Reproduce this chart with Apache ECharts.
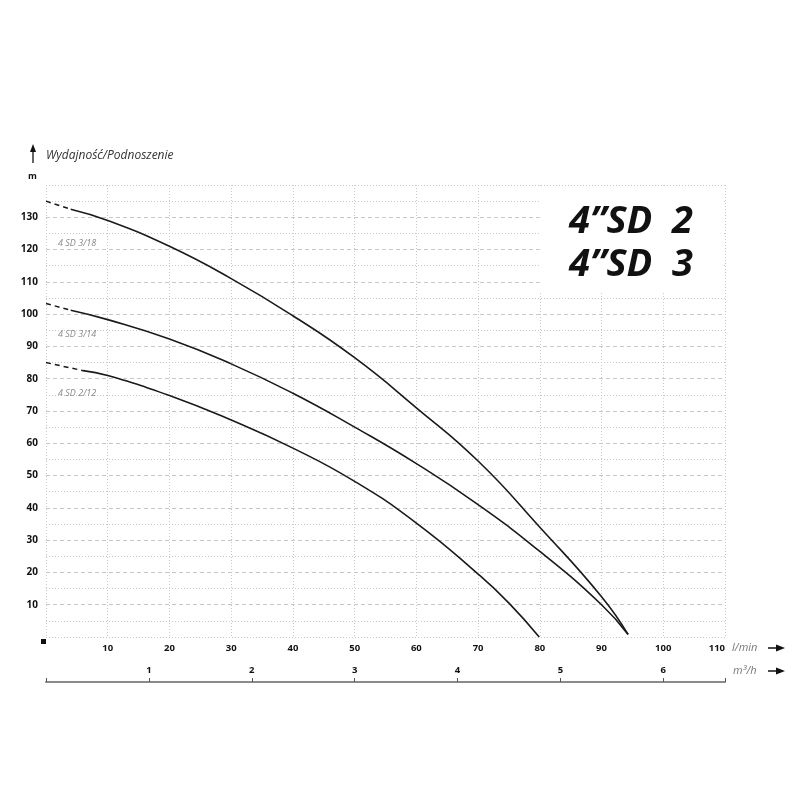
<!DOCTYPE html>
<html>
<head>
<meta charset="utf-8">
<script src="https://cdn.jsdelivr.net/npm/echarts@6/dist/echarts.min.js"></script>
<style>html,body{margin:0;padding:0;background:#fff;}#chart{width:800px;height:800px;}</style>
</head>
<body>
<div id="chart"></div>
<script>
// ---- data (flow in l/min, head in m) ----
const curveNames = ['4 SD 3/18', '4 SD 3/14', '4 SD 2/12'];
const flow318 = [0, 4, 10, 20, 30, 40, 50, 60, 70, 80, 90, 94.3];
const head318 = [135, 132.5, 129, 121, 111, 99.5, 86.5, 71, 54.5, 34, 12.5, 0.8];
const flow314 = [0, 4, 10, 20, 30, 40, 50, 60, 70, 80, 90, 94.3];
const head314 = [103.3, 101.2, 98.3, 92.3, 84.6, 75.5, 65, 53.7, 41, 26.5, 10, 0.8];
const flow212 = [0, 6, 10, 20, 30, 40, 50, 60, 70, 75, 79.9];
const head212 = [85, 82.5, 81, 74.8, 67.2, 58.5, 48.2, 35.3, 19.5, 10.5, 0];
const xTicksLmin = [10, 20, 30, 40, 50, 60, 70, 80, 90, 100, 110];
const xTicksM3h = [1, 2, 3, 4, 5, 6];
const yTicks = [10, 20, 30, 40, 50, 60, 70, 80, 90, 100, 110, 120, 130];
const titleLines = ['4\u201DSD  2', '4\u201DSD  3'];
const yTitle = 'Wydajność/Podnoszenie';
const yUnit = 'm';
const xUnit1 = 'l/min';
const xUnit2 = 'm\u00B3/h';

const FONT = '"Open Sans", "DejaVu Sans", sans-serif';
const chart = echarts.init(document.getElementById('chart'), null, {renderer: 'canvas'});

function pts(xs, ys) { return xs.map((x, i) => [x, ys[i]]); }
function curveSeries(xs, ys) {
  const all = pts(xs, ys);
  const common = {type: 'line', showSymbol: false, symbol: 'none', silent: true, z: 5,
    xAxisIndex: 0, yAxisIndex: 0};
  return [
    Object.assign({}, common, {data: all.slice(0, 2),
      lineStyle: {color: '#1a1a1a', width: 1.5, type: [5, 4]}}),
    Object.assign({}, common, {data: all.slice(1), smooth: 0.5,
      lineStyle: {color: '#1a1a1a', width: 1.6}})
  ];
}

const gridColor = '#c8c8c8';
function arrowRight(x, y) {
  return [
    {type: 'line', shape: {x1: x, y1: y, x2: x + 10, y2: y}, style: {stroke: '#111', lineWidth: 1.5}, z: 60},
    {type: 'polygon', shape: {points: [[x + 8, y - 3.5], [x + 17, y], [x + 8, y + 3.5]]}, style: {fill: '#111'}, z: 60}
  ];
}

const option = {
  backgroundColor: '#fff',
  animation: false,
  grid: {left: 46, right: 75, top: 185, bottom: 163, containLabel: false},
  xAxis: [
    {type: 'value', min: 0, max: 110, interval: 10, position: 'bottom',
      axisLine: {show: false, onZero: false}, axisTick: {show: false},
      axisLabel: {show: true, margin: 6, color: '#111', fontFamily: FONT, fontWeight: 'bold', fontSize: 9.5,
        alignMaxLabel: 'right',
        formatter: v => xTicksLmin.includes(v) ? String(v) : ''},
      splitLine: {show: true, lineStyle: {color: gridColor, type: [1, 2], width: 1}}
    },
    {type: 'value', min: 0, max: 6.6, interval: 1, position: 'bottom', offset: 45,
      axisLine: {show: true, onZero: false, lineStyle: {color: '#8a8a8a', width: 2}},
      axisTick: {show: true, inside: true, length: 4, lineStyle: {color: '#555', width: 1}},
      axisLabel: {show: true, inside: true, margin: 7, color: '#111', fontFamily: FONT, fontWeight: 'bold', fontSize: 9.5,
        formatter: v => xTicksM3h.includes(v) ? String(v) : ''},
      splitLine: {show: false}
    }
  ],
  yAxis: [
    {type: 'value', min: 0, max: 140, interval: 10,
      axisLine: {show: false}, axisTick: {show: false},
      axisLabel: {show: true, margin: 8, color: '#111', fontFamily: FONT, fontWeight: 'bold', fontSize: 10,
        formatter: v => yTicks.includes(v) ? String(v) : ''},
      splitLine: {show: true, showMinLine: false, showMaxLine: false,
        lineStyle: {color: gridColor, type: [4, 3], width: 1}},
      minorTick: {show: false, splitNumber: 2},
      minorSplitLine: {show: true, lineStyle: {color: gridColor, type: [1, 2], width: 1}}
    },
    {type: 'value', min: 0, max: 140, interval: 140, position: 'left',
      axisLine: {show: false}, axisTick: {show: false}, axisLabel: {show: false},
      splitLine: {show: true, lineStyle: {color: gridColor, type: [1, 2], width: 1}}
    }
  ],
  series: [].concat(
    curveSeries(flow318, head318),
    curveSeries(flow314, head314),
    curveSeries(flow212, head212)
  ),
  graphic: [
    // title box covering grid
    {type: 'rect', shape: {x: 540, y: 186, width: 184, height: 106}, style: {fill: '#fff'}, z: 50},
    {type: 'text', x: 569, y: 222, style: {text: titleLines[0], font: 'italic bold 38px ' + FONT, fill: '#111', textVerticalAlign: 'middle', textAlign: 'left'}, z: 55},
    {type: 'text', x: 569, y: 265, style: {text: titleLines[1], font: 'italic bold 38px ' + FONT, fill: '#111', textVerticalAlign: 'middle', textAlign: 'left'}, z: 55},
    // y axis title with up arrow
    {type: 'line', shape: {x1: 33, y1: 163, x2: 33, y2: 150}, style: {stroke: '#111', lineWidth: 1.3}, z: 60},
    {type: 'polygon', shape: {points: [[30, 152], [33, 144], [36, 152]]}, style: {fill: '#111'}, z: 60},
    {type: 'text', x: 46, y: 156, style: {text: yTitle, font: 'italic 12px ' + FONT, fill: '#333', textVerticalAlign: 'middle'}, z: 60},
    {type: 'text', x: 28, y: 176, style: {text: yUnit, font: 'bold 9px ' + FONT, fill: '#111', textVerticalAlign: 'middle'}, z: 60},
    // curve labels
    {type: 'text', x: 58, y: 243, style: {text: curveNames[0], font: 'italic 9px ' + FONT, fill: '#8a8a8a', textVerticalAlign: 'middle'}, z: 60},
    {type: 'text', x: 58, y: 334, style: {text: curveNames[1], font: 'italic 9px ' + FONT, fill: '#8a8a8a', textVerticalAlign: 'middle'}, z: 60},
    {type: 'text', x: 58, y: 393, style: {text: curveNames[2], font: 'italic 9px ' + FONT, fill: '#8a8a8a', textVerticalAlign: 'middle'}, z: 60},
    // origin marker
    {type: 'rect', shape: {x: 41, y: 639, width: 5, height: 5}, style: {fill: '#111'}, z: 60},
    // units on x axes
    {type: 'text', x: 732, y: 648, style: {text: xUnit1, font: 'italic 11px ' + FONT, fill: '#777', textVerticalAlign: 'middle'}, z: 60},
    {type: 'text', x: 733, y: 671, style: {text: xUnit2, font: 'italic 11px ' + FONT, fill: '#777', textVerticalAlign: 'middle'}, z: 60}
  ].concat(arrowRight(768, 648), arrowRight(768, 671))
};
chart.setOption(option);
</script>
</body>
</html>
